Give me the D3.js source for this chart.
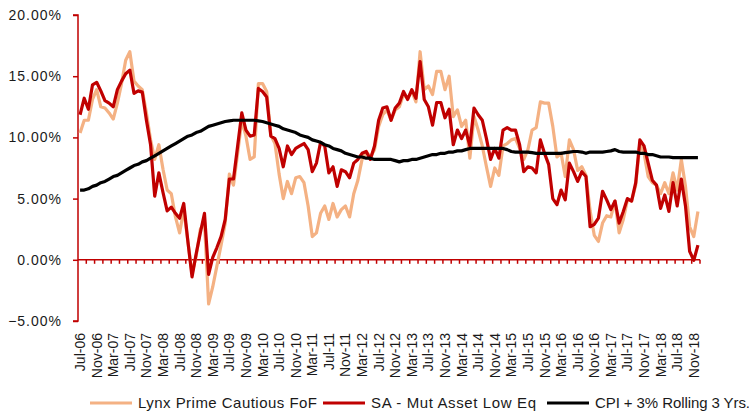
<!DOCTYPE html>
<html><head><meta charset="utf-8">
<script src="https://cdn.jsdelivr.net/npm/d3@7"></script>
<style>
html,body{margin:0;padding:0;background:#fff;}
svg{display:block;font-family:"Liberation Sans",Arial,sans-serif;}
</style></head>
<body><svg id="c" width="749" height="415"></svg>
<script>
// ---- data ----
const monthNames = ["Jan","Feb","Mar","Apr","May","Jun","Jul","Aug","Sep","Oct","Nov","Dec"];
const startMonth = 6, startYear = 2006, monthCount = 150; // Jul-06 .. Dec-18
const categories = [];
for (let k = 0; k < monthCount; k++) {
  const m = (startMonth + k) % 12, yr = startYear + Math.floor((startMonth + k) / 12);
  categories.push(monthNames[m] + "-" + String(yr).slice(2));
}
const seriesNames = ["Lynx Prime Cautious FoF", "SA - Mut Asset Low Eq", "CPI + 3% Rolling 3 Yrs."];
const lynx = [
10.35,11.4,11.4,13.1,13.9,12.5,12.4,12.0,11.5,12.8,
14.4,16.3,17.0,14.6,14.2,13.9,12.0,9.8,8.2,9.4,
7.4,5.7,5.4,3.5,2.2,4.1,1.5,-1.1,0.3,2.5,
3.1,-3.6,-2.2,-0.5,1.2,3.0,7.0,6.1,8.7,11.4,
10.1,8.2,8.4,14.4,14.4,13.75,10.2,9.5,7.0,5.0,
6.4,5.4,6.7,6.8,6.3,4.4,1.9,2.2,3.8,4.4,
3.3,4.6,3.5,4.1,4.4,3.5,5.4,6.5,8.2,8.85,
8.4,9.0,10.9,11.85,12.25,11.4,12.25,12.5,13.5,13.2,
13.75,12.9,17.0,13.9,14.2,13.5,15.4,15.4,13.9,15.0,
11.7,12.25,10.9,11.4,8.3,11.7,10.6,9.3,7.6,6.0,
7.5,6.9,9.3,9.5,9.8,9.9,9.1,8.2,9.0,10.6,
10.8,12.9,12.8,12.8,10.9,8.4,8.7,6.8,9.8,9.0,
7.3,7.6,6.9,4.0,2.0,1.5,3.0,3.6,3.5,4.8,
2.2,3.3,4.9,4.8,6.1,9.5,8.7,6.8,6.3,6.1,
5.4,6.3,5.4,7.1,5.7,8.2,6.0,2.7,1.9,3.95
];
const saMut = [
11.85,13.2,12.3,14.3,14.5,13.8,13.0,12.8,12.5,13.9,
14.6,15.2,15.5,13.6,13.8,13.7,11.4,9.4,5.2,7.1,
5.5,4.0,4.3,3.8,3.4,4.6,1.5,-1.4,0.5,2.2,
3.8,-1.2,0.2,1.0,1.9,3.3,6.6,6.6,9.3,12.0,
10.6,10.1,10.2,14.0,13.75,13.3,10.1,9.9,9.1,7.6,
9.3,8.6,9.1,9.3,9.5,9.0,7.2,7.9,9.6,9.3,
7.1,7.6,6.0,7.35,7.2,6.7,7.9,8.2,8.7,8.85,
8.2,9.3,11.4,12.4,12.5,11.4,12.4,12.8,13.75,13.1,
13.9,13.2,16.2,13.1,12.5,11.0,12.85,12.85,11.6,12.3,
9.4,10.6,9.9,10.6,9.3,12.4,11.85,11.4,9.9,8.2,
9.1,8.3,10.6,10.8,10.6,10.6,9.4,7.2,7.6,7.5,
7.1,9.8,8.7,7.8,5.0,4.5,5.7,4.9,7.9,7.2,
6.4,7.2,6.8,2.7,2.9,3.4,5.6,4.9,4.1,4.8,
3.0,3.95,5.0,4.8,6.3,9.8,9.3,7.9,6.5,6.1,
4.2,5.3,3.95,6.3,4.4,6.6,4.4,0.7,-0.05,1.2
];
const cpi = [
5.7,5.7,5.8,6.0,6.1,6.3,6.4,6.6,6.8,6.9,
7.1,7.3,7.5,7.7,7.8,8.0,8.1,8.3,8.5,8.7,
8.9,9.1,9.3,9.5,9.7,9.9,10.1,10.2,10.4,10.5,
10.7,10.9,11.0,11.1,11.2,11.3,11.35,11.4,11.4,11.4,
11.4,11.4,11.4,11.35,11.3,11.2,11.1,11.0,10.9,10.7,
10.6,10.5,10.4,10.2,10.1,10.0,9.8,9.7,9.6,9.4,
9.3,9.1,9.0,8.9,8.7,8.6,8.5,8.4,8.4,8.3,
8.3,8.2,8.2,8.2,8.2,8.2,8.1,8.0,8.1,8.1,
8.2,8.2,8.3,8.4,8.5,8.6,8.6,8.7,8.7,8.8,
8.8,8.9,8.9,9.0,9.1,9.1,9.1,9.1,9.1,9.1,
9.1,9.1,9.1,9.0,8.85,8.8,8.8,8.8,8.8,8.75,
8.7,8.7,8.7,8.7,8.7,8.7,8.7,8.75,8.8,8.85,
8.85,8.8,8.7,8.8,8.8,8.8,8.8,8.85,8.9,9.0,
8.85,8.8,8.8,8.8,8.8,8.7,8.7,8.6,8.6,8.5,
8.4,8.4,8.4,8.35,8.35,8.35,8.35,8.35,8.35,8.35
];
const yTicks = [-5, 0, 5, 10, 15, 20];
const labelEvery = 4, tickEvery = 2;

// ---- chart ----
(function () {
const svg = d3.select("#c");
const axisRed = "#C00000";
const colors = ["#F4B183", "#C00000", "#000000"];
const pL = 78, pR = 700, pT = 15, pB = 321;

const x = d3.scaleBand().domain(categories).range([pL, pR]).paddingInner(0).paddingOuter(0);
const y = d3.scaleLinear().domain([-5, 20]).range([pB, pT]);
const cx = d => x(d) + x.bandwidth() / 2;

// y axis
const yAxis = d3.axisLeft(y).tickValues(yTicks).tickSize(5).tickPadding(11)
  .tickFormat(d => d3.format(".2f")(d) + "%");
const gy = svg.append("g").attr("transform", `translate(${pL},0)`).call(yAxis);
gy.select(".domain").attr("stroke", axisRed).attr("stroke-width", 1.5).attr("d", `M-5,${pT}H0V${pB}H-5`);
gy.selectAll(".tick line").attr("stroke", axisRed).attr("stroke-width", 1.5);
gy.selectAll(".tick text").attr("font-size", 14).attr("letter-spacing", 1).attr("fill", "#1a1a1a")
  .attr("font-family", "'Liberation Sans',Arial,sans-serif");

// zero axis with ticks every 2 categories
const zeroY = y(0);
const gx = svg.append("g");
gx.append("line").attr("x1", pL).attr("x2", pR).attr("y1", zeroY).attr("y2", zeroY)
  .attr("stroke", axisRed).attr("stroke-width", 1.5);
const tickXs = categories.filter((d, i) => i > 0 && i % tickEvery === 0).map(d => x(d)).concat([pR]);
gx.selectAll("line.t").data(tickXs).enter().append("line").attr("class", "t")
  .attr("x1", d => d).attr("x2", d => d)
  .attr("y1", zeroY).attr("y2", zeroY + 4).attr("stroke", axisRed).attr("stroke-width", 1.5);

// category labels at bottom
const labelCats = categories.filter((d, i) => i % labelEvery === 0);
svg.append("g").selectAll("text").data(labelCats).enter().append("text")
  .attr("transform", d => `translate(${cx(d) + 5},333) rotate(-90)`)
  .attr("text-anchor", "end").attr("font-size", 14).attr("fill", "#1a1a1a")
  .text(d => d);

// lines
const series = [lynx, saMut, cpi];
const line = d3.line().x((d, i) => cx(categories[i])).y(d => y(d)).curve(d3.curveLinear);
series.forEach((s, k) => {
  svg.append("path").datum(s).attr("d", line).attr("fill", "none")
    .attr("stroke", colors[k]).attr("stroke-width", 3.2).attr("stroke-linejoin", "round");
});

// legend
const legendY = 403;
const legendX = [90, 323, 547];
const legendTextW = [179, 165, 155];
seriesNames.forEach((n, k) => {
  const g = svg.append("g").attr("transform", `translate(${legendX[k]},${legendY})`);
  g.append("line").attr("x1", 0).attr("x2", 42).attr("y1", 0).attr("y2", 0)
    .attr("stroke", colors[k]).attr("stroke-width", 3.2);
  g.append("text").attr("x", 48).attr("y", 5).attr("font-size", 15).attr("fill", "#1a1a1a")
    .attr("textLength", legendTextW[k]).attr("lengthAdjust", "spacing").text(n);
});
})();
</script></body></html>
